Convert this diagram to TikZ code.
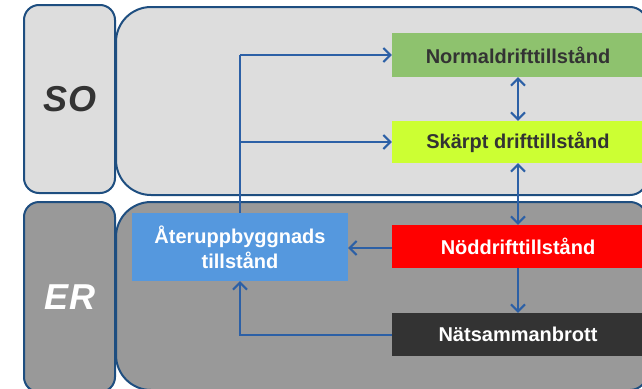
\documentclass[tikz,border=0pt]{standalone}
\usepackage{fontspec}
\setmainfont{Liberation Sans}
\usetikzlibrary{arrows.meta}
\definecolor{outl}{RGB}{30,78,128}
\definecolor{arr}{RGB}{44,96,166}
\definecolor{lgray}{RGB}{221,221,221}
\definecolor{dgray}{RGB}{153,153,153}
\definecolor{ngreen}{RGB}{142,194,110}
\definecolor{syellow}{RGB}{204,255,51}
\definecolor{nred}{RGB}{255,0,0}
\definecolor{nblack}{RGB}{51,51,51}
\definecolor{rblue}{RGB}{85,152,222}
\definecolor{txt}{RGB}{51,51,51}
\begin{document}
\begin{tikzpicture}[x=1pt,y=-1pt,
  frame/.style={draw=outl,line width=2pt},
  statebox/.style={minimum width=252pt,minimum height=44pt,inner sep=0pt,
    font=\fontsize{20}{24}\selectfont\bfseries},
  tip/.tip={Straight Barb[length=7pt,width=14pt,line width=2pt]},
  conn/.style={draw=arr,line width=2pt,-tip},
  dconn/.style={draw=arr,line width=2pt,tip-tip},
  line/.style={draw=arr,line width=2pt}]
\useasboundingbox (0,0) rectangle (642,388);
\clip (0,0) rectangle (642,388);
% side boxes
\draw[frame,fill=lgray,rounded corners=15pt] (24,5) rectangle (115,193);
\draw[frame,fill=dgray,rounded corners=15pt] (24,202) rectangle (115,392);
% big boxes
\draw[frame,fill=lgray] (116,100) [rounded corners=35pt] -- (116,7) -- (400,7)
  [rounded corners=17pt] -- (647,7) -- (647,195) -- (400,195)
  [rounded corners=35pt] -- (116,195) -- cycle;
\draw[frame,fill=dgray] (116,300) [rounded corners=35pt] -- (116,202) -- (400,202)
  [rounded corners=17pt] -- (647,202) -- (647,390) -- (400,390)
  [rounded corners=35pt] -- (116,390) -- cycle;
% labels
\node[font=\fontsize{36}{40}\selectfont\bfseries\itshape,text=txt] (so) at (70,99) {SO};
\node[font=\fontsize{36}{40}\selectfont\bfseries\itshape,text=white] (er) at (70,297) {ER};
% state boxes
\node[statebox,fill=ngreen,text=txt] (normal) at (518,55) {Normaldrifttillstånd};
\node[statebox,fill=syellow,text=txt,minimum height=42pt] (skarpt) at (518,142) {Skärpt drifttillstånd};
\node[statebox,fill=nred,text=white,minimum height=43pt] (nod) at (518,246.5) {Nöddrifttillstånd};
\node[statebox,fill=nblack,text=white,minimum height=43pt] (nat) at (518,334.5) {Nätsammanbrott};
\node[fill=rblue,text=white,minimum width=216pt,minimum height=68pt,inner sep=0pt,align=center,
  font=\fontsize{20}{25}\selectfont\bfseries] (ater) at (240,247) {Återuppbyggnads\\tillstånd};
% connectors
\coordinate (top) at (ater.north |- normal.west);
\coordinate (mid) at (ater.north |- skarpt.west);
\coordinate (bot) at (ater.south |- nat.west);
\draw[line] (ater.north) -- (top);
\draw[conn] (top) -- (normal.west);
\draw[conn] (mid) -- (skarpt.west);
\draw[dconn] (normal.south) -- (skarpt.north);
\draw[dconn] (skarpt.south) -- (nod.north);
\draw[conn] (nod.south) -- (nat.north);
\draw[conn] (nod.west |- 0,248) -- (ater.east |- 0,248);
\draw[conn] (nat.west) -- (bot) -- (ater.south);
\end{tikzpicture}
\end{document}
